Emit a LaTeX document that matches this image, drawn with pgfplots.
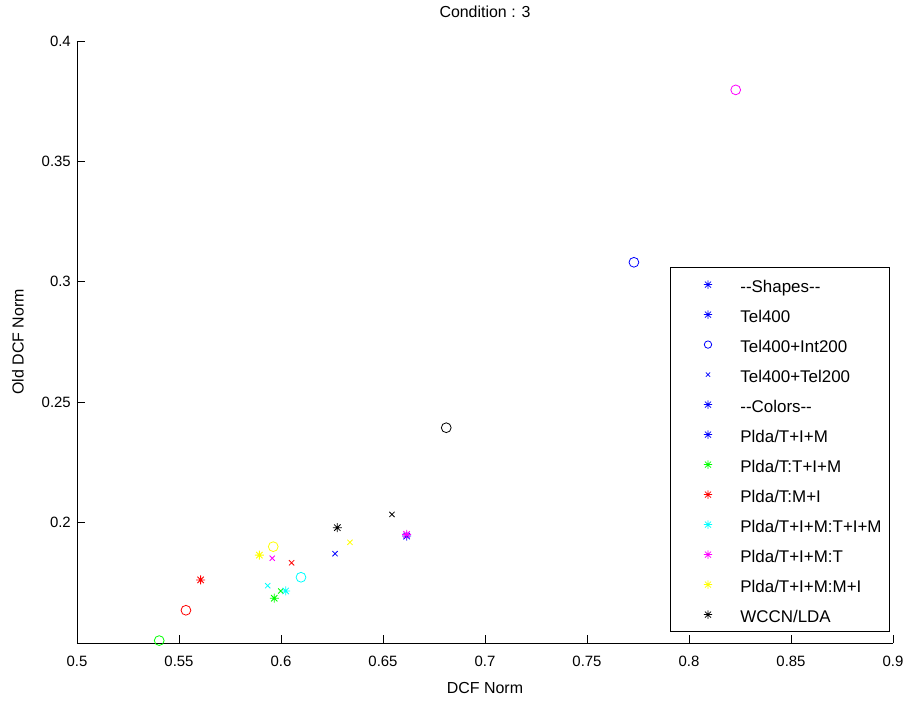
\documentclass[border=0pt]{standalone}
\usepackage{fontspec}
\setmainfont{Liberation Sans}
\usepackage{pgfplots}
\pgfplotsset{compat=1.18}

% eight-armed asterisk (plus and cross combined)
\pgfdeclareplotmark{ast8}{%
  \pgfpathmoveto{\pgfqpoint{-\pgfplotmarksize}{0pt}}\pgfpathlineto{\pgfqpoint{\pgfplotmarksize}{0pt}}%
  \pgfpathmoveto{\pgfqpoint{0pt}{-\pgfplotmarksize}}\pgfpathlineto{\pgfqpoint{0pt}{\pgfplotmarksize}}%
  \pgfpathmoveto{\pgfqpoint{-0.707\pgfplotmarksize}{-0.707\pgfplotmarksize}}\pgfpathlineto{\pgfqpoint{0.707\pgfplotmarksize}{0.707\pgfplotmarksize}}%
  \pgfpathmoveto{\pgfqpoint{-0.707\pgfplotmarksize}{0.707\pgfplotmarksize}}\pgfpathlineto{\pgfqpoint{0.707\pgfplotmarksize}{-0.707\pgfplotmarksize}}%
  \pgfusepathqstroke}

\definecolor{mblue}{rgb}{0,0,1}
\definecolor{mgreen}{rgb}{0,1,0}
\definecolor{mred}{rgb}{1,0,0}
\definecolor{mcyan}{rgb}{0,1,1}
\definecolor{mmagenta}{rgb}{1,0,1}
\definecolor{myellow}{rgb}{1,1,0}
\definecolor{mblack}{rgb}{0,0,0}

\pgfplotsset{
  pstar/.style={only marks, mark=ast8, mark size=4.5bp, line width=0.8bp},
  pcirc/.style={only marks, mark=o, mark size=4.9bp, line width=0.8bp},
  pcross/.style={only marks, mark=x, mark size=3.7bp, line width=0.8bp},
}

\begin{document}
\begin{tikzpicture}
\begin{axis}[
  scale only axis,
  width=816bp, height=602bp,
  xmin=0.5, xmax=0.9, ymin=0.15, ymax=0.4,
  axis x line*=bottom, axis y line*=left,
  axis line style={line width=0.8bp, -},
  tick align=inside,
  major tick length=8bp,
  every tick/.style={black, line width=0.8bp},
  xtick={0.5,0.55,0.6,0.65,0.7,0.75,0.8,0.85,0.9},
  xticklabels={0.5,0.55,0.6,0.65,0.7,0.75,0.8,0.85,0.9},
  ytick={0.2,0.25,0.3,0.35,0.4},
  yticklabels={0.2,0.25,0.3,0.35,0.4},
  tick label style={font=\fontsize{15}{18}\selectfont},
  xticklabel style={anchor=center, inner sep=0pt, yshift=-18bp},
  yticklabel style={anchor=east, inner sep=0pt, xshift=-6bp},
  title={Condition : 3},
  title style={font=\fontsize{16}{19}\selectfont, at={(axis description cs:0.5,1.0382)}, anchor=center},
  xlabel={DCF Norm},
  xlabel style={font=\fontsize{16}{19}\selectfont, at={(axis description cs:0.5,-0.0748)}, anchor=center},
  ylabel={Old DCF Norm},
  ylabel style={font=\fontsize{16}{19}\selectfont, at={(axis description cs:-0.0723,0.5)}, anchor=center},
  clip=false,
  legend cell align=left,
  legend image code/.code={%
    \path (-29bp,0) (32bp,0);
    \draw[#1, line width=0.8bp] plot coordinates {(0bp,0bp)};},
  legend style={
    at={(axis description cs:0.9963,0.0183)}, anchor=south east,
    draw=black, line width=0.8bp,
    font=\fontsize{17}{20}\selectfont,
    inner xsep=8bp, inner ysep=9bp,
    row sep=14bp, column sep=0pt,
    nodes={inner sep=0pt, text height=16bp, text depth=0bp},
  },
]

% legend entries: shapes, then colours
\addlegendimage{mblue, only marks, mark=ast8, mark size=4.2bp}
\addlegendentry{-{}-Shapes-{}-}
\addlegendimage{mblue, only marks, mark=ast8, mark size=4.2bp}
\addlegendentry{Tel400}
\addlegendimage{mblue, only marks, mark=o, mark size=3.7bp}
\addlegendentry{Tel400+Int200}
\addlegendimage{mblue, only marks, mark=x, mark size=3bp}
\addlegendentry{Tel400+Tel200}
\addlegendimage{mblue, only marks, mark=ast8, mark size=4.2bp}
\addlegendentry{-{}-Colors-{}-}
\addlegendimage{mblue, only marks, mark=ast8, mark size=4.2bp}
\addlegendentry{Plda/T+I+M}
\addlegendimage{mgreen, only marks, mark=ast8, mark size=4.2bp}
\addlegendentry{Plda/T:T+I+M}
\addlegendimage{mred, only marks, mark=ast8, mark size=4.2bp}
\addlegendentry{Plda/T:M+I}
\addlegendimage{mcyan, only marks, mark=ast8, mark size=4.2bp}
\addlegendentry{Plda/T+I+M:T+I+M}
\addlegendimage{mmagenta, only marks, mark=ast8, mark size=4.2bp}
\addlegendentry{Plda/T+I+M:T}
\addlegendimage{myellow, only marks, mark=ast8, mark size=4.2bp}
\addlegendentry{Plda/T+I+M:M+I}
\addlegendimage{mblack, only marks, mark=ast8, mark size=4.2bp}
\addlegendentry{WCCN/LDA}

% Plda/T+I+M
\addplot[pstar, mblue, forget plot] coordinates {(0.6616,0.1944)};
\addplot[pcirc, mblue, forget plot] coordinates {(0.7730,0.3081)};
\addplot[pcross, mblue, forget plot] coordinates {(0.6265,0.1871)};
% Plda/T:T+I+M
\addplot[pstar, mgreen, forget plot] coordinates {(0.5967,0.1686)};
\addplot[pcirc, mgreen, forget plot] coordinates {(0.5403,0.1510)};
\addplot[pcross, mgreen, forget plot] coordinates {(0.5999,0.1716)};
% Plda/T:M+I
\addplot[pstar, mred, forget plot] coordinates {(0.5606,0.1762)};
\addplot[pcirc, mred, forget plot] coordinates {(0.5534,0.1636)};
\addplot[pcross, mred, forget plot] coordinates {(0.6052,0.1833)};
% Plda/T+I+M:T+I+M
\addplot[pstar, mcyan, forget plot] coordinates {(0.6023,0.1716)};
\addplot[pcirc, mcyan, forget plot] coordinates {(0.6098,0.1773)};
\addplot[pcross, mcyan, forget plot] coordinates {(0.5935,0.1738)};
% Plda/T+I+M:T
\addplot[pstar, mmagenta, forget plot] coordinates {(0.6616,0.1951)};
\addplot[pcirc, mmagenta, forget plot] coordinates {(0.8229,0.3797)};
\addplot[pcross, mmagenta, forget plot] coordinates {(0.5957,0.1852)};
% Plda/T+I+M:M+I
\addplot[pstar, myellow, forget plot] coordinates {(0.5894,0.1865)};
\addplot[pcirc, myellow, forget plot] coordinates {(0.5962,0.1900)};
\addplot[pcross, myellow, forget plot] coordinates {(0.6338,0.1918)};
% WCCN/LDA
\addplot[pstar, mblack, forget plot] coordinates {(0.6276,0.1979)};
\addplot[pcirc, mblack, forget plot] coordinates {(0.6810,0.2394)};
\addplot[pcross, mblack, forget plot] coordinates {(0.6544,0.2034)};
\end{axis}
% page frame around the axis
\path (current axis.south west) ++(-77bp,-59bp) rectangle ++(910bp,702bp);
\end{tikzpicture}
\end{document}
